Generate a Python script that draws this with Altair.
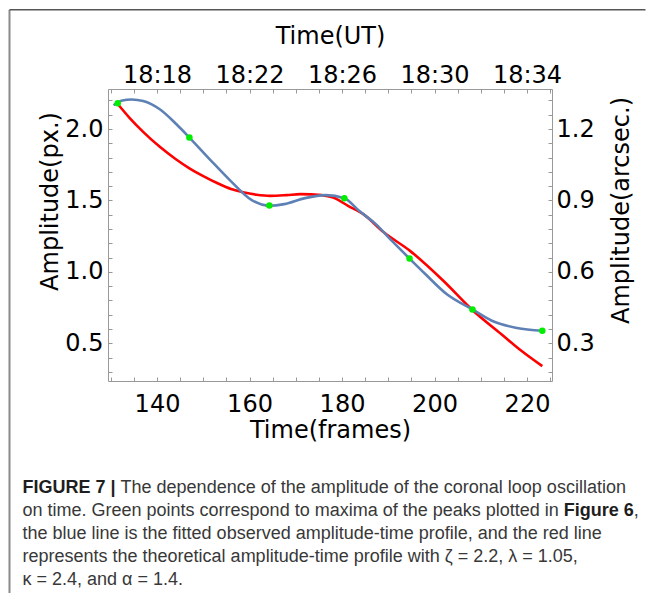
import json
import altair as alt
import pandas as pd

# ---------------- data ----------------
pts_frame = [131.5, 147.0, 164.3, 180.5, 194.6, 208.2, 223.3]
pts_amp = [2.18, 1.94, 1.465, 1.516, 1.093, 0.737, 0.588]

blue_frame = [130.6, 132.5, 134.5, 137.0, 140.6, 144.2, 147.0, 151.4, 155.9, 160.4,
              164.3, 167.5, 172.0, 176.5, 180.5, 183.7, 187.3, 190.9, 194.6, 198.0,
              202.6, 208.2, 212.4, 217.8, 223.3]
blue_amp = [2.166, 2.200, 2.207, 2.196, 2.138, 2.033, 1.940, 1.788, 1.637, 1.504,
            1.463, 1.474, 1.516, 1.537, 1.516, 1.427, 1.334, 1.213, 1.093, 0.985,
            0.845, 0.737, 0.658, 0.607, 0.588]

red_frame = [131.5, 134.0, 137.0, 140.6, 144.0, 147.0, 150.0, 153.1, 156.0, 158.6,
             161.5, 164.5, 168.0, 171.0, 175.6, 178.1, 181.3, 184.6, 189.1, 194.7,
             201.9, 208.3, 214.4, 218.7, 223.3]
red_amp = [2.175, 2.080, 1.980, 1.875, 1.790, 1.725, 1.670, 1.620, 1.580, 1.557,
           1.540, 1.532, 1.537, 1.544, 1.537, 1.520, 1.462, 1.404, 1.275, 1.147,
           0.938, 0.730, 0.565, 0.449, 0.340]

frame_tick_labels = [140, 160, 180, 200, 220]
ut_tick_labels = ["18:18", "18:22", "18:26", "18:30", "18:34"]
px_tick_labels = [0.5, 1.0, 1.5, 2.0]
arcsec_tick_labels = [0.3, 0.6, 0.9, 1.2]
px_to_arcsec = 0.6

caption_l1_bold = "FIGURE 7 |"
caption_l1 = " The dependence of the amplitude of the coronal loop oscillation"
caption_l2 = "on time. Green points correspond to maxima of the peaks plotted in "
caption_l2_bold = "Figure 6"
caption_l2_end = ","
caption_l3 = "the blue line is the fitted observed amplitude-time profile, and the red line"
caption_l4 = "represents the theoretical amplitude-time profile with \u03b6 = 2.2, \u03bb = 1.05,"
caption_l5 = "\u03ba = 2.4, and \u03b1 = 1.4."

# ---------------- layout / style ----------------
W, H = 444, 292
xdom = [129.4, 225.4]
ydom = [0.236, 2.28]
ydom_r = [ydom[0] * px_to_arcsec, ydom[1] * px_to_arcsec]
FONT = "DejaVu Sans"
FS = 24
TICK = "#999999"
CAP_FONT = "Liberation Sans"
CAP_FS = 18

x_ticks = [130 + 5 * i for i in range(20)]
y_ticks = [round(0.3 + 0.1 * i, 1) for i in range(20)]
yr_ticks = [round(0.18 + 0.06 * i, 2) for i in range(20)]

# Arial / Liberation Sans advance widths (per 1000 em)
REG = {' ': 278, '.': 278, ',': 278, 'G': 778, 'T': 611, 'a': 556, 'b': 556, 'c': 500,
       'd': 556, 'e': 556, 'f': 278, 'g': 556, 'h': 556, 'i': 222, 'k': 500, 'l': 222,
       'm': 833, 'n': 556, 'o': 556, 'p': 556, 'r': 333, 's': 500, 't': 278, 'u': 556,
       'x': 500, 'y': 500}
BOLD = {' ': 278, 'F': 611, 'I': 278, 'G': 778, 'U': 722, 'R': 722, 'E': 667, '7': 556,
        '|': 280, 'i': 278, 'g': 611, 'u': 611, 'r': 389, 'e': 556, '6': 556}


def tw(s, table):
    return sum(table.get(c, 556) for c in s) * CAP_FS / 1000.0


common_axis = dict(
    domain=False, grid=False, ticks=True, tickSize=4, offset=-4, tickColor=TICK,
    tickWidth=1, labelFont=FONT, labelFontSize=FS, labelColor="black",
    labelOverlap=False, labelFlush=False, labelBound=False,
    titleFont=FONT, titleFontSize=FS, titleFontWeight="normal", titleColor="black",
)

x_axis = alt.Axis(
    orient="bottom", values=x_ticks,
    labelExpr="indexof(%s, datum.value) >= 0 ? datum.label : ''" % json.dumps(frame_tick_labels),
    labelPadding=11, title="Time(frames)", titleY=53.5, titleBaseline="middle",
    **common_axis)
y_axis = alt.Axis(
    orient="left", values=y_ticks, format=".1f",
    labelExpr="indexof(%s, datum.value) >= 0 ? datum.label : ''" % json.dumps(px_tick_labels),
    labelPadding=5, title="Amplitude(px.)", titleAngle=270, titleX=-61.5, titleY=112,
    titleAlign="center", titleBaseline="middle", **common_axis)

x_top_axis = alt.Axis(
    orient="top", values=x_ticks,
    labelExpr="indexof(%s, datum.value) >= 0 ? %s[indexof(%s, datum.value)] : ''" % (
        json.dumps(frame_tick_labels), json.dumps(ut_tick_labels), json.dumps(frame_tick_labels)),
    labelPadding=2, title="Time(UT)", titleY=-57, titleBaseline="middle", **common_axis)
y_right_axis = alt.Axis(
    orient="right", values=yr_ticks, format=".1f",
    labelExpr="indexof(%s, datum.value) >= 0 ? datum.label : ''" % json.dumps(arcsec_tick_labels),
    labelPadding=4, title="Amplitude(arcsec.)", titleAngle=270, titleX=73.3, titleY=121,
    titleAlign="center", titleBaseline="middle", **common_axis)

X = alt.X("frame:Q", scale=alt.Scale(domain=xdom, nice=False, zero=False), axis=x_axis)
Y = alt.Y("amp:Q", scale=alt.Scale(domain=ydom, nice=False, zero=False), axis=y_axis)

blue_df = pd.DataFrame({"frame": blue_frame, "amp": blue_amp})
red_df = pd.DataFrame({"frame": red_frame, "amp": red_amp})
pts_df = pd.DataFrame({"frame": pts_frame, "amp": pts_amp})

red = alt.Chart(red_df).mark_line(color="#ff0000", strokeWidth=2.6, interpolate="monotone").encode(x=X, y=Y)
blue = alt.Chart(blue_df).mark_line(color="#5e81b5", strokeWidth=2.6, interpolate="monotone").encode(x=X, y=Y)
pts = alt.Chart(pts_df).mark_circle(color="#00ee00", size=42, opacity=1).encode(x=X, y=Y)
main = alt.layer(red, blue, pts)

secondary = alt.Chart(pts_df).transform_calculate(
    arc="datum.amp * %s" % px_to_arcsec
).mark_point(opacity=0).encode(
    x=alt.X("frame:Q", scale=alt.Scale(domain=xdom, nice=False, zero=False), axis=x_top_axis),
    y=alt.Y("arc:Q", scale=alt.Scale(domain=ydom_r, nice=False, zero=False), axis=y_right_axis),
)

# ---------------- caption ----------------
ox, oy = 107.5, 88.0  # page position of the plot origin
cap_x = 22 - ox
line_y = [487 - oy, 510 - oy, 533 - oy, 556 - oy, 579 - oy]


def text_layer(s, x, y, bold=False):
    return alt.Chart(pd.DataFrame({"t": [s]})).mark_text(
        align="left", baseline="middle", font=CAP_FONT, fontSize=CAP_FS,
        fontWeight="bold" if bold else "normal",
        color="#1e1e1e" if bold else "#383838",
    ).encode(text="t:N", x=alt.value(x), y=alt.value(y))


texts = [
    text_layer(caption_l1_bold, cap_x, line_y[0], True),
    text_layer(caption_l1.strip(), cap_x + tw(caption_l1_bold + " ", BOLD) + 0, line_y[0]),
    text_layer(caption_l2.strip(), cap_x, line_y[1]),
    text_layer(caption_l2_bold, cap_x + tw(caption_l2, REG), line_y[1], True),
    text_layer(caption_l2_end, cap_x + tw(caption_l2, REG) + tw(caption_l2_bold, BOLD), line_y[1]),
    text_layer(caption_l3, cap_x, line_y[2]),
    text_layer(caption_l4, cap_x, line_y[3]),
    text_layer(caption_l5, cap_x, line_y[4]),
]

# ---------------- figure border ----------------
one = pd.DataFrame({"a": [0]})
border_left = alt.Chart(one).mark_rule(color="#8a8a8a", strokeWidth=2).encode(
    x=alt.value(9 - ox), y=alt.value(8.75 - oy), y2=alt.value(592 - oy))
border_top = alt.Chart(one).mark_rule(color="#555555", strokeWidth=1.5).encode(
    x=alt.value(9 - ox), x2=alt.value(645 - ox), y=alt.value(8.75 - oy))

chart = alt.layer(main, secondary, *texts, border_left, border_top).resolve_scale(
    x="independent", y="independent"
).properties(
    width=W, height=H, padding=0, background="white"
).configure_view(stroke=TICK, strokeWidth=1)

chart.save("out.html", embed_options={"renderer": "svg", "actions": False})
